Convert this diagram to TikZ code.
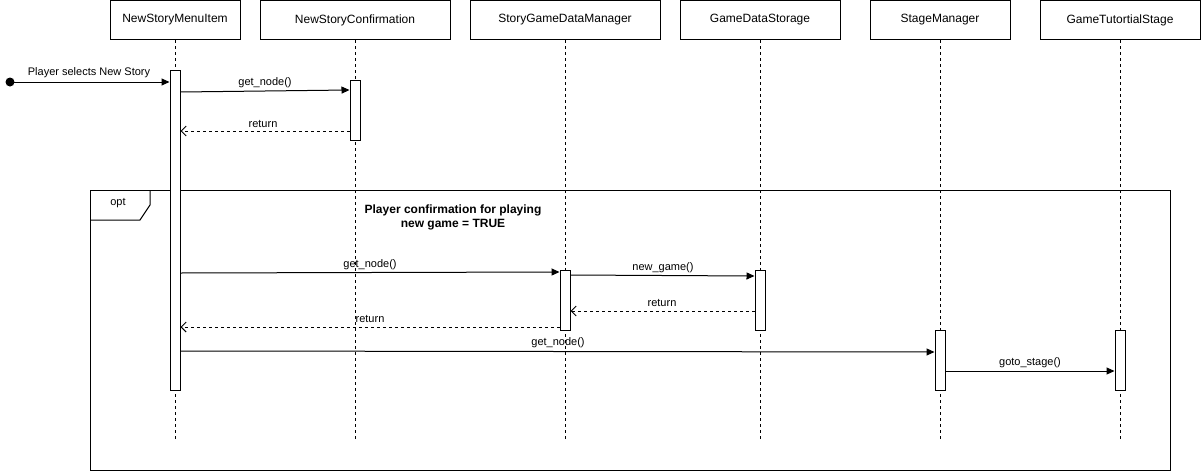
\documentclass[tikz,border=0pt]{standalone}
\usepackage{fontspec}
\setmainfont{Liberation Sans}
\usetikzlibrary{arrows.meta,calc}
\begin{document}
\begin{tikzpicture}[x=1pt,y=-1pt,
  head/.style={draw, line width=1pt, minimum height=39pt, inner sep=0pt,
    font=\fontsize{12}{14}\selectfont},
  bar/.style={draw, fill=white, line width=1pt, minimum width=10pt, inner sep=0pt, anchor=north},
  lifeline/.style={line width=1pt, dash pattern=on 3pt off 3pt},
  msg/.style={line width=1pt, -{Triangle[length=8pt,width=7pt]}},
  ret/.style={line width=1pt, dash pattern=on 3pt off 3pt, -{Straight Barb[length=5pt,width=10pt]}},
  lbl/.style={font=\fontsize{11}{13}\selectfont, inner sep=0pt},
  guard/.style={font=\fontsize{12}{14}\selectfont\bfseries, inner sep=0pt, align=center}
]
\useasboundingbox (0,0) rectangle (1201,471);

% participants
\node[head, minimum width=130pt] (h1) at (175,20) {NewStoryMenuItem};
\node[head, minimum width=190pt] (h2) at (355,20) {NewStoryConfirmation};
\node[head, minimum width=190pt] (h3) at (565,20) {StoryGameDataManager};
\node[head, minimum width=160pt] (h4) at (760,20) {GameDataStorage};
\node[head, minimum width=140pt] (h5) at (940,20) {StageManager};
\node[head, minimum width=160pt] (h6) at (1120,20) {GameTutortialStage};

% lifelines
\foreach \h in {h1,h2,h3,h4,h5,h6}
  \draw[lifeline] (\h.south) -- (\h.south |- 0,440);

% combined fragment
\draw[line width=1pt] (90,190) rectangle (1170,470);
\draw[line width=1pt] (90,220) -- (140,220) -- (150,205) -- (150,190);
\node[lbl] (optlbl) at (118,203) {opt};
\node[guard] (cond) at (453,217) {Player confirmation for playing\\new game = TRUE};

% activation bars
\node[bar, minimum height=320pt] (b1) at (175,70) {};
\node[bar, minimum height=60pt] (b2) at (355,80) {};
\node[bar, minimum height=60pt] (b3) at (565,270) {};
\node[bar, minimum height=60pt] (b4) at (760,270) {};
\node[bar, minimum height=60pt] (b5) at (940,330) {};
\node[bar, minimum height=60pt] (b6) at (1120,330) {};

% found message
\node[circle, fill=black, inner sep=0pt, minimum size=9pt] (start) at (10,82) {};
\draw[msg] (start.center) -- (b1.west |- 0,82);
\node[lbl] at (89,73) {Player selects New Story};

% messages
\draw[msg] (b1.east |- 0,92) -- (b2.west |- 0,90);
\node[lbl] at (265,83) {get\_node()};
\draw[ret] (b2.west |- 0,131) -- (b1.east |- 0,131);
\node[lbl] at (263,124) {return};

\draw[msg] (b1.east |- 0,273) -- (b3.west |- 0,272);
\node[lbl] at (370,265) {get\_node()};
\draw[msg] (b3.east |- 0,275) -- (b4.west |- 0,276);
\node[lbl] at (663,268) {new\_game()};
\draw[ret] (b4.west |- 0,311) -- (b3.east |- 0,311);
\node[lbl] at (662,303) {return};
\draw[ret] (b3.west |- 0,327) -- (b1.east |- 0,327);
\node[lbl] at (370,319) {return};
\draw[msg] (b1.east |- 0,351) -- (b5.west |- 0,352);
\node[lbl] at (558,343) {get\_node()};
\draw[msg] (b5.east |- 0,371) -- (b6.west |- 0,371);
\node[lbl] at (1030,363) {goto\_stage()};
\end{tikzpicture}
\end{document}
